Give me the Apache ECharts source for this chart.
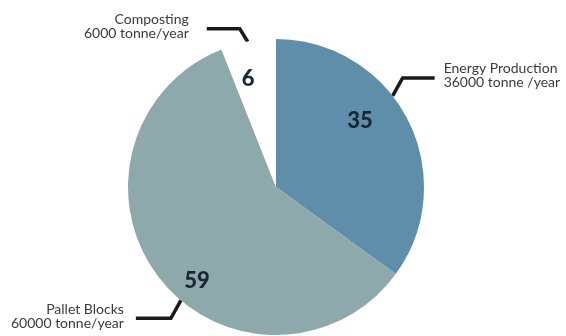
<!DOCTYPE html>
<html>
<head>
<meta charset="utf-8">
<script src="https://cdn.jsdelivr.net/npm/echarts@6/dist/echarts.min.js"></script>
<style>
  html, body { margin: 0; padding: 0; background: #fff; }
  #chart { width: 566px; height: 336px; }
</style>
</head>
<body>
<div id="chart"></div>
<script>
const categories = ['Energy Production', 'Pallet Blocks', 'Composting']
const shares = [35, 59, 6]
const tonnes = [36000, 60000, 6000]
const units = ['tonne /year', 'tonne/year', 'tonne/year']
const colors = ['#5f8eaa', '#8ea9ac', '#ffffff']

const CX = 276, CY = 187, R = 148

// callouts: rim angle (deg, clockwise from top), elbow offset, horizontal run, gap to text
const callouts = [
  {angle: 52, elbow: [10, -18], run: 32, gap: 9},
  {angle: 220, elbow: [-10, 18], run: -35, gap: 12},
  {angle: 349, elbow: [-8, -13], run: -33, gap: 18}
]
// value labels: [angle, fraction of radius]
const numPos = [[52, 0.72], [220, 0.83], [345.5, 0.755]]

function polar(angle, r) {
  const a = angle * Math.PI / 180
  return [CX + r * Math.sin(a), CY - r * Math.cos(a)]
}

const chart = echarts.init(document.getElementById('chart'))

const pieData = categories.map((name, i) => ({
  name: name,
  value: shares[i],
  itemStyle: {color: colors[i]}
}))

chart.setOption({
  animation: false,
  backgroundColor: '#fff',
  series: [
    {
      type: 'pie',
      center: [CX, CY],
      radius: R,
      startAngle: 90,
      clockwise: true,
      silent: true,
      emphasis: {disabled: true},
      data: pieData,
      label: {
        position: 'inside',
        formatter: '{c}',
        fontFamily: 'Lato',
        fontWeight: 900,
        fontSize: 22,
        color: '#1b2733'
      },
      labelLine: {show: false},
      labelLayout: function (p) {
        const pos = polar(numPos[p.dataIndex][0], R * numPos[p.dataIndex][1])
        return {x: pos[0], y: pos[1], align: 'center', verticalAlign: 'middle'}
      }
    },
    {
      type: 'pie',
      center: [CX, CY],
      radius: R,
      startAngle: 90,
      clockwise: true,
      silent: true,
      emphasis: {disabled: true},
      data: categories.map((name, i) => ({
        name: name,
        value: shares[i],
        itemStyle: {color: 'rgba(0,0,0,0)'}
      })),
      label: {
        position: 'outside',
        formatter: p => p.name + '\n' + tonnes[p.dataIndex] + ' ' + units[p.dataIndex],
        fontFamily: 'Lato',
        fontSize: 14,
        lineHeight: 14,
        color: '#3b3b3b',
        overflow: 'none'
      },
      labelLine: {
        show: true,
        length: 15,
        length2: 30,
        lineStyle: {color: '#1a1a1a', width: 3.5}
      },
      labelLayout: function (p) {
        const c = callouts[p.dataIndex]
        const p0 = polar(c.angle, R)
        const p1 = [p0[0] + c.elbow[0], p0[1] + c.elbow[1]]
        const p2 = [p1[0] + c.run, p1[1]]
        const right = c.run > 0
        return {
          x: p2[0] + (right ? c.gap : -c.gap),
          y: p2[1] - 2,
          width: 200,
          align: right ? 'left' : 'right',
          verticalAlign: 'middle',
          labelLinePoints: [p0, p1, p2]
        }
      }
    }
  ]
})
</script>
</body>
</html>
